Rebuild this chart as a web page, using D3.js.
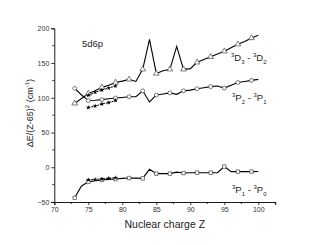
<!DOCTYPE html>
<html><head><meta charset="utf-8">
<script src="https://cdn.jsdelivr.net/npm/d3@7"></script>
<style>body{margin:0;background:#fff}svg{display:block}text{font-family:"Liberation Sans",Arial,sans-serif}</style>
</head><body><svg id="c" width="320" height="245"></svg>
<script>
// Z values and series
const zLine = [73,74,75,76,77,78,79,80,81,82,83,84,85,86,87,88,89,90,91,92,93,94,95,96,97,98,99,100];
const dD = [92,99,106,110,115,118,122,124,126.5,123.5,141,184,135,139,141,174,141,142,151,155,159,163,167,172,177,181,186,190];
const pP21 = [113.5,104,96,96.5,97.3,98.5,99.7,100.5,101.5,101.5,110,94,104,105.5,107,105,110,111,113,114.5,116,117,114,118,122,123.5,125,126.5];
const pP10 = [-44,-27,-21,-19.5,-18.3,-17.5,-17,-16,-15.5,-15.7,-16,-3,-9.2,-9.2,-9.2,-7,-8.3,-8,-7.8,-7.8,-7.8,-7.8,1,-6.3,-6.3,-6.3,-6.3,-6];
const markEvery = [73,75,77,79,81,83,85,87,89,91,93,95,97,99];
const zStar = [75,76,77,78,79];
const starD = [103.5,108,111,114,117];
const starP21 = [86,88,91,93,96];
const starP10 = [-18,-17.5,-16.8,-16,-15];
const xTicks = [70,75,80,85,90,95,100];
const yTicks = [-50,0,50,100,150,200];

const svg = d3.select("#c");
const x = d3.scaleLinear().domain([70,102.5]).range([54.3,275.3]);
const y = d3.scaleLinear().domain([-50,200]).range([202,28.3]);

const xAxis = d3.axisBottom(x).tickValues(xTicks).tickSize(3).tickPadding(2).tickFormat(d3.format("d"));
const gx = svg.append("g").attr("transform",`translate(0,${y(-50)})`).call(xAxis);
svg.append("g").selectAll("line").data(d3.range(72.5,103,5)).join("line")
  .attr("x1",d=>x(d)).attr("x2",d=>x(d)).attr("y1",y(-50)).attr("y2",y(-50)+2).attr("stroke","#000").attr("stroke-width",0.8);
const yAxis = d3.axisLeft(y).tickValues(yTicks).tickSize(3).tickPadding(2);
const gy = svg.append("g").attr("transform",`translate(${x(70)},0)`).call(yAxis);
svg.append("g").selectAll("line").data(d3.range(-25,200,50)).join("line")
  .attr("x1",x(70)).attr("x2",x(70)-2).attr("y1",d=>y(d)).attr("y2",d=>y(d)).attr("stroke","#000").attr("stroke-width",0.8);
[gx,gy].forEach(g=>{
  g.select(".domain").attr("stroke","#000").attr("stroke-width",0.9);
  g.selectAll(".tick line").attr("stroke","#000").attr("stroke-width",0.8);
  g.selectAll(".tick text").attr("font-size",7).attr("fill","#333").attr("font-family","Liberation Sans, Arial, sans-serif");
});

const line = d3.line().x(d=>x(d[0])).y(d=>y(d[1]));
function drawSeries(vals, shape){
  const pts = zLine.map((z,i)=>[z,vals[i]]);
  svg.append("path").attr("d",line(pts)).attr("fill","none").attr("stroke","#000").attr("stroke-width",1.1);
  const mk = pts.filter(p=>markEvery.includes(p[0]));
  const sym = d3.symbol().type(shape).size(shape===d3.symbolTriangle?14:12);
  svg.append("g").selectAll("path").data(mk).join("path")
    .attr("transform",d=>`translate(${x(d[0])},${y(d[1])})`)
    .attr("d",sym).attr("fill","#fff").attr("stroke","#444").attr("stroke-width",0.7);
}
drawSeries(dD, d3.symbolTriangle);
drawSeries(pP21, d3.symbolCircle);
drawSeries(pP10, d3.symbolSquare);

function drawStars(vals){
  const pts = zStar.map((z,i)=>[z,vals[i]]);
  svg.append("path").attr("d",line(pts)).attr("fill","none").attr("stroke","#000").attr("stroke-width",1).attr("stroke-dasharray","2,1");
  svg.append("g").selectAll("path").data(pts).join("path")
    .attr("transform",d=>`translate(${x(d[0])},${y(d[1])})`)
    .attr("d",d3.symbol().type(d3.symbolStar).size(7)).attr("fill","#000");
}
drawStars(starD); drawStars(starP21); drawStars(starP10);

svg.append("text").attr("x",82).attr("y",47).attr("font-size",9.5).attr("fill","#222").text("5d6p");
function term(xp, yp, a, an, b, bn){
  const t = svg.append("text").attr("x",xp).attr("y",yp).attr("font-size",9.5).attr("fill","#222");
  t.append("tspan").attr("font-size",6).attr("dy",-4).text("3");
  t.append("tspan").attr("dy",4).text(a);
  t.append("tspan").attr("font-size",6).attr("dy",3).text(an);
  t.append("tspan").attr("dy",-3).text(" - ");
  t.append("tspan").attr("font-size",6).attr("dy",-4).text("3");
  t.append("tspan").attr("dy",4).text(b);
  t.append("tspan").attr("font-size",6).attr("dy",3).text(bn);
}
term(231,61,"D","3","D","2");
term(232,101,"P","2","P","1");
term(232,193,"P","1","P","0");

svg.append("text").attr("x",x(86.25)).attr("y",228).attr("text-anchor","middle").attr("font-size",10.5).attr("fill","#222").text("Nuclear charge Z");
const yl = svg.append("text").attr("transform",`translate(33,${y(78)}) rotate(-90)`).attr("text-anchor","middle").attr("font-size",9).attr("fill","#222");
yl.append("tspan").text("ΔE/(Z-65)");
yl.append("tspan").attr("font-size",6).attr("dy",-4).text("2");
yl.append("tspan").attr("dy",4).text(" (cm");
yl.append("tspan").attr("font-size",6).attr("dy",-4).text("-1");
yl.append("tspan").attr("dy",4).text(")");
</script></body></html>
